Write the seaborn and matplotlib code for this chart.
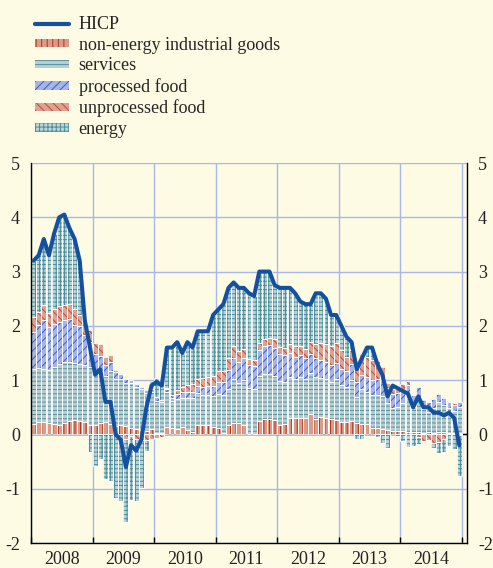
import numpy as np
import matplotlib
matplotlib.use("Agg")
import matplotlib.pyplot as plt
import seaborn as sns
from matplotlib.patches import Patch
from matplotlib.lines import Line2D

# monthly data, Jan 2008 - Dec 2014 (percentage points)
years = ["2008", "2009", "2010", "2011", "2012", "2013", "2014"]

hicp = [3.2, 3.3, 3.6, 3.3, 3.7, 4.0, 4.05, 3.8, 3.6, 3.2, 2.1, 1.6,
        1.1, 1.2, 0.6, 0.6, 0.0, -0.1, -0.6, -0.2, -0.3, -0.1, 0.5, 0.9,
        0.97, 0.9, 1.6, 1.6, 1.7, 1.5, 1.7, 1.6, 1.9, 1.9, 1.9, 2.2,
        2.3, 2.4, 2.7, 2.8, 2.7, 2.7, 2.6, 2.55, 3.0, 3.0, 3.0, 2.75,
        2.7, 2.7, 2.7, 2.6, 2.45, 2.4, 2.4, 2.6, 2.6, 2.5, 2.2, 2.2,
        2.0, 1.8, 1.7, 1.2, 1.4, 1.6, 1.6, 1.3, 1.1, 0.7, 0.9, 0.85,
        0.8, 0.75, 0.5, 0.7, 0.5, 0.5, 0.4, 0.4, 0.35, 0.4, 0.3, -0.2]

neig = [0.19, 0.22, 0.23, 0.21, 0.20, 0.18, 0.21, 0.25, 0.27, 0.25, 0.23, 0.18,
        0.17, 0.21, 0.22, 0.19, 0.15, 0.17, 0.15, 0.12, 0.10, 0.08, 0.06, 0.10,
        0.02, 0.03, 0.14, 0.11, 0.10, 0.13, 0.09, 0.05, 0.18, 0.18, 0.17, 0.14,
        0.11, 0.02, 0.18, 0.21, 0.21, 0.18, 0.01, 0.01, 0.25, 0.28, 0.28, 0.26,
        0.18, 0.20, 0.30, 0.30, 0.30, 0.30, 0.38, 0.29, 0.32, 0.31, 0.29, 0.27,
        0.23, 0.23, 0.25, 0.21, 0.20, 0.19, 0.12, 0.12, 0.10, 0.08, 0.07, 0.06,
        0.06, 0.05, 0.04, 0.05, 0.02, 0.04, 0.02, 0.05, 0.04, 0.03, 0.02, 0.03]

services = [1.01, 1.00, 0.97, 0.98, 1.05, 1.12, 1.12, 1.09, 1.05, 1.05, 1.05, 1.07,
            0.98, 0.96, 0.85, 0.98, 0.88, 0.85, 0.80, 0.82, 0.78, 0.76, 0.70, 0.68,
            0.60, 0.56, 0.64, 0.50, 0.56, 0.55, 0.58, 0.62, 0.58, 0.55, 0.56, 0.56,
            0.64, 0.70, 0.66, 0.82, 0.74, 0.82, 0.84, 0.82, 0.82, 0.84, 0.84, 0.82,
            0.80, 0.76, 0.75, 0.72, 0.76, 0.72, 0.75, 0.76, 0.72, 0.72, 0.68, 0.76,
            0.68, 0.64, 0.76, 0.48, 0.64, 0.60, 0.60, 0.60, 0.60, 0.50, 0.42, 0.45,
            0.51, 0.63, 0.47, 0.62, 0.44, 0.38, 0.47, 0.55, 0.51, 0.45, 0.42, 0.48]

proc_food = [0.69, 0.80, 0.90, 0.78, 0.79, 0.78, 0.77, 0.78, 0.70, 0.69, 0.55, 0.46,
             0.34, 0.27, 0.20, 0.16, 0.12, 0.09, 0.07, 0.06, 0.05, 0.04, 0.05, 0.06,
             0.07, 0.05, 0.05, 0.07, 0.08, 0.10, 0.11, 0.12, 0.13, 0.15, 0.16, 0.19,
             0.22, 0.25, 0.34, 0.37, 0.38, 0.40, 0.42, 0.43, 0.48, 0.50, 0.52, 0.52,
             0.50, 0.50, 0.45, 0.40, 0.40, 0.38, 0.36, 0.35, 0.34, 0.31, 0.31, 0.29,
             0.29, 0.29, 0.28, 0.27, 0.26, 0.26, 0.28, 0.30, 0.31, 0.28, 0.26, 0.25,
             0.24, 0.23, 0.21, 0.20, 0.17, 0.17, 0.16, 0.15, 0.12, 0.11, 0.10, 0.09]

unproc_food = [0.28, 0.23, 0.28, 0.27, 0.27, 0.29, 0.29, 0.28, 0.29, 0.21, 0.27, 0.22,
               0.19, 0.22, 0.16, 0.13, 0.03, 0.02, -0.08, -0.03, -0.08, -0.10, -0.11, -0.09,
               -0.07, -0.05, 0.03, 0.05, 0.08, 0.10, 0.13, 0.14, 0.14, 0.16, 0.17, 0.19,
               0.19, 0.20, 0.22, 0.22, 0.20, 0.18, 0.12, 0.12, 0.14, 0.14, 0.14, 0.15,
               0.13, 0.14, 0.16, 0.20, 0.16, 0.18, 0.22, 0.26, 0.30, 0.32, 0.34, 0.37,
               0.36, 0.27, 0.27, 0.32, 0.38, 0.37, 0.38, 0.33, 0.24, 0.09, 0.08, 0.11,
               0.12, 0.08, 0.00, -0.04, -0.12, -0.10, -0.15, -0.14, -0.08, 0.02, 0.03, -0.01]

energy = [1.03, 1.05, 1.22, 1.06, 1.39, 1.63, 1.66, 1.40, 1.29, 1.00, 0.00, -0.33,
          -0.58, -0.46, -0.83, -0.86, -1.18, -1.23, -1.54, -1.17, -1.15, -0.88, -0.20, 0.15,
          0.35, 0.31, 0.74, 0.87, 0.88, 0.62, 0.79, 0.67, 0.87, 0.86, 0.84, 1.12,
          1.14, 1.23, 1.30, 1.18, 1.17, 1.12, 1.21, 1.17, 1.31, 1.24, 1.22, 1.00,
          1.09, 1.10, 1.04, 0.98, 0.83, 0.82, 0.69, 0.94, 0.92, 0.84, 0.58, 0.51,
          0.44, 0.37, 0.14, -0.08, -0.08, 0.18, 0.22, -0.05, -0.15, -0.25, 0.07, -0.02,
          -0.13, -0.24, -0.22, -0.13, -0.01, 0.01, -0.10, -0.21, -0.24, -0.21, -0.27, -0.75]

bg = "#fdfbe3"
grid_col = "#a9b7ea"

# name, values, face colour, hatch colour, hatch
components = [
    ("non-energy industrial goods", neig, "#dc9b86", "#b0301f", "|||"),
    ("services", services, "#b6ced3", "#5b8f99", "----"),
    ("processed food", proc_food, "#a7b5e6", "#3f5fc0", "////"),
    ("unprocessed food", unproc_food, "#dca292", "#c04a38", "\\\\\\\\"),
    ("energy", energy, "#bcd4d8", "#4a8e99", "++++"),
]

sns.set_style("white")
plt.rcParams["font.family"] = ["Liberation Serif", "DejaVu Serif"]
plt.rcParams["font.size"] = 13
plt.rcParams["axes.unicode_minus"] = False
plt.rcParams["hatch.linewidth"] = 0.7

fig = plt.figure(figsize=(4.93, 5.68), dpi=100, facecolor=bg)
ax = fig.add_axes([31 / 493, 25 / 568, 436 / 493, 380 / 568])
ax.set_facecolor(bg)

months = np.arange(len(hicp))
pos_base = np.zeros(len(months))
neg_base = np.zeros(len(months))

for name, vals, face, hcol, hatch in components:
    v = np.array(vals)
    bottom = np.where(v >= 0, pos_base, neg_base)
    ax.bar(months, v, bottom=bottom, width=0.95, color=face, edgecolor=hcol,
           hatch=hatch, linewidth=0, zorder=2)
    ax.bar(months, v, bottom=bottom, width=0.95, fill=False, edgecolor="white",
           linewidth=0.6, zorder=2.1)
    pos_base = pos_base + np.where(v > 0, v, 0)
    neg_base = neg_base + np.where(v < 0, v, 0)

ax.axhline(0, color="black", lw=1.0, zorder=1.5)

sns.lineplot(x=months, y=hicp, ax=ax, color="#1450a0", lw=2.9, zorder=5)

ax.set_xlim(-0.5, 84.5)
ax.set_ylim(-2, 5)

# year boundaries
ax.set_xticks(np.arange(-0.5, 84, 12))
ax.set_xticklabels([])
ax.set_xticks(np.arange(5.5, 84, 12), minor=True)
ax.set_xticklabels(years, minor=True)
ax.tick_params(axis="x", which="major", direction="in", length=4, width=1,
               color="black", bottom=True, top=False)
ax.tick_params(axis="x", which="minor", length=0, pad=6)

ax.set_yticks(range(-2, 6))
ax.set_yticklabels([str(v) for v in range(-2, 6)])
ax.tick_params(axis="y", length=0, labelleft=True, labelright=True, pad=8)

ax.grid(True, which="major", color=grid_col, lw=1.0, zorder=0)
ax.set_axisbelow(True)

for side in ["left", "right", "bottom"]:
    ax.spines[side].set_color("black")
    ax.spines[side].set_linewidth(1.0)
ax.spines["top"].set_visible(False)
ax.set_xlabel("")
ax.set_ylabel("")
for lab in ax.get_xticklabels(minor=True) + ax.get_yticklabels():
    lab.set_color("#222222")

handles = [Line2D([0], [0], color="#1450a0", lw=3)]
labels = ["HICP"]
for name, vals, face, hcol, hatch in components:
    handles.append(Patch(facecolor=face, edgecolor=hcol, hatch=hatch, linewidth=0))
    labels.append(name)

fig.legend(handles, labels, loc="upper left", bbox_to_anchor=(28 / 493, 1 - 9 / 568),
           frameon=False, fontsize=13, handlelength=1.85, handleheight=0.32,
           handletextpad=0.55, labelspacing=0.2, borderaxespad=0)

fig.savefig("out.png", dpi=100, facecolor=bg)
